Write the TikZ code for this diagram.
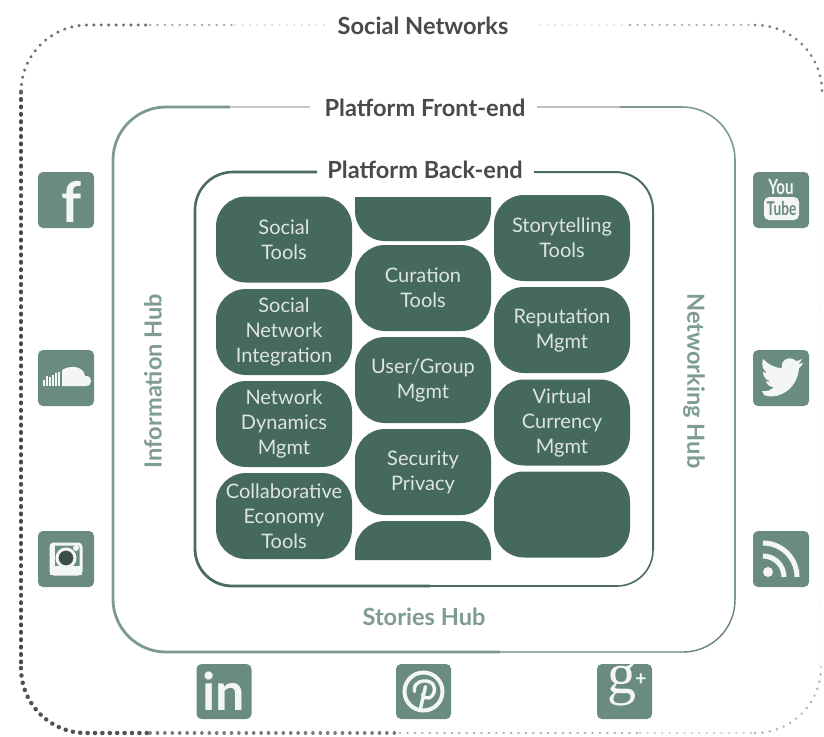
\documentclass[tikz,border=0pt]{standalone}
\usepackage{fontspec}
\setmainfont{Lato}
\newfontfamily\gfont{Liberation Serif}
\definecolor{blockc}{HTML}{45695F}
\definecolor{iconc}{HTML}{6A8C80}
\definecolor{hubc}{HTML}{7F9C92}
\definecolor{titlec}{HTML}{4A4A4A}
\definecolor{frontc}{HTML}{7E9A90}
\definecolor{backc}{HTML}{4A6B62}
\colorlet{glyphc}{white!92!iconc}
\tikzset{
  blockbox/.style={fill=blockc,rounded corners=30pt,minimum width=136pt,minimum height=86pt,inner sep=0pt,align=center,text=white!82!blockc,font=\fontsize{20}{25}\selectfont},
  iconbox/.style={fill=iconc,rounded corners=5pt,minimum width=56pt,minimum height=56pt,inner sep=0pt},
  titletext/.style={text=titlec,font=\fontsize{23.6}{28}\selectfont\bfseries},
  hubtext/.style={text=hubc,font=\fontsize{23.6}{28}\selectfont\bfseries},
  glyph/.style={text=glyphc,inner sep=0pt},
  dots/.style={line cap=round,dash pattern=on 0.2pt off 7.2pt},
}
\begin{document}
\begin{tikzpicture}[x=1pt,y=-1pt]
\useasboundingbox[fill=white] (0,0) rectangle (824,736);
% outer dotted frame
\draw[dots,line width=4.8pt,black!72] (21,92) -- (21,668);
\draw[dots,line width=4.4pt,black!68] (21,668) arc[start angle=180,end angle=270,radius=65pt] -- (150,733);
\draw[dots,line width=3.4pt,black!52] (150,733) -- (400,733);
\draw[dots,line width=2.8pt,black!34] (400,733) -- (640,733);
\draw[dots,line width=2.4pt,black!22] (640,733) -- (755,733);
\draw[dots,line width=2.6pt,black!30] (755,733) arc[start angle=270,end angle=360,radius=66pt];
\draw[dots,line width=1.5pt,black!5] (821,667) -- (821,92);
\draw[dots,line width=3.2pt,black!58] (21,92) arc[start angle=180,end angle=90,radius=67pt] -- (150,25);
\draw[dots,line width=2.6pt,black!38] (150,25) -- (235,25);
\draw[dots,line width=2.2pt,black!15] (235,25) -- (325,25);
\draw[dots,line width=2.2pt,black!12] (540,25) -- (630,25);
\draw[dots,line width=2.6pt,black!35] (630,25) -- (755,25);
\draw[dots,line width=3pt,black!50] (755,25) arc[start angle=90,end angle=0,radius=67pt];
% front-end frame
\draw[frontc,line width=2.8pt] (113,160) arc[start angle=180,end angle=90,radius=53pt] -- (230,107);
\draw[black!22,line width=2pt] (230,107) -- (310,107);
\draw[black!25,line width=1.4pt] (537,107) -- (620,107);
\draw[frontc,line width=1.6pt] (620,107) -- (682,107) arc[start angle=90,end angle=0,radius=53pt];
\draw[frontc,line width=2.2pt] (735,160) -- (735,600);
\draw[frontc!85!black,line width=1.4pt] (735,600) arc[start angle=0,end angle=-90,radius=52pt] -- (500,652);
\draw[frontc,line width=2.8pt] (500,652) -- (166,652) arc[start angle=270,end angle=180,radius=53pt] -- (113,160);
% back-end frame
\draw[backc,line width=2.6pt] (195,210) arc[start angle=180,end angle=90,radius=38pt] -- (317,172);
\draw[backc,line width=2pt] (534,172) -- (615,172) arc[start angle=90,end angle=0,radius=38pt] -- (653,550);
\draw[backc,line width=1.6pt] (653,550) arc[start angle=0,end angle=-90,radius=36pt] -- (430,586);
\draw[backc,line width=2.8pt] (430,586) -- (232,586) arc[start angle=270,end angle=180,radius=37pt] -- (195,210);
% titles
\node[titletext] (social) at (423,26) {Social Networks};
\node[titletext] (front) at (425,108) {Platform Front-end};
\node[titletext] (back) at (425,170) {Platform Back-end};
\node[hubtext,rotate=90] (info) at (153,381) {Information Hub};
\node[hubtext,rotate=-90] (net) at (694,381) {Networking Hub};
\node[hubtext] (stories) at (424,617) {Stories Hub};
% blocks
\node[blockbox] (b1) at (284,239.5) {Social\\Tools};
\node[blockbox] (b2) at (284,332) {Social\\Network\\Integration};
\node[blockbox] (b3) at (284,424) {Network\\Dynamics\\Mgmt};
\node[blockbox] (b4) at (284,516) {Collaborative\\Economy\\Tools};
\fill[blockc] (355,197) -- (491,197) [rounded corners=30pt] -- (491,241) -- (355,241) [sharp corners] -- cycle;
\node[blockbox] (m1) at (423,288) {Curation\\Tools};
\node[blockbox] (m2) at (423,380) {User/Group\\Mgmt};
\node[blockbox] (m3) at (423,472) {Security\\Privacy};
\fill[blockc] (355,560) -- (491,560) [rounded corners=30pt] -- (491,521) -- (355,521) [sharp corners] -- cycle;
\node[blockbox] (r1) at (562,238) {Storytelling\\Tools};
\node[blockbox] (r2) at (562,330) {Reputation\\Mgmt};
\node[blockbox] (r3) at (562,422.5) {Virtual\\Currency\\Mgmt};
\node[blockbox] (r4) at (562,514.5) {};
% icons
\node[iconbox] (fb) at (66,200) {};
\node[glyph,font=\fontsize{56}{56}\selectfont\bfseries] (fbg) at (72,202) {f};
\node[iconbox] (sc) at (66,378) {};
\begin{scope}[shift={(sc.center)}]
  \fill[glyphc] (-4,8) -- (20,8) .. controls (27,8) and (27,-3) .. (19,-2) .. controls (18,-11) and (6,-14) .. (-4,-8) -- cycle;
  \foreach \xx/\hh in {-7/14,-10/13,-13/11,-16/9,-19/10,-22/6}{
    \draw[glyphc,line width=1.6pt] (\xx,8) -- (\xx,8-\hh);
  }
\end{scope}
\node[iconbox] (ig) at (66,559) {};
\begin{scope}[shift={(ig.center)}]
  \draw[glyphc,line width=3pt,rounded corners=3pt] (-15,-15) rectangle (15,15);
  \fill[glyphc] (-16,7) rectangle (16,16);
  \fill[glyphc] (-16,-15) rectangle (-11,12);
  \draw[glyphc,line width=3pt,fill=iconc!55!black] (0,-1) circle[radius=9pt];
  \fill[glyphc] (10,-11) circle[radius=3pt];
\end{scope}
\node[iconbox] (yt) at (781,200) {};
\node[glyph,xscale=.72,font=\fontsize{21}{21}\selectfont\bfseries] (ytyou) at (781,187) {You};
\fill[glyphc,rounded corners=5pt] (764,197) rectangle (799,220);
\node[text=iconc,inner sep=0pt,xscale=.72,font=\fontsize{19}{19}\selectfont\bfseries] (yttube) at (781.5,208.5) {Tube};
\node[iconbox] (tw) at (781,378) {};
\begin{scope}[shift={(tw.center)}]
  \fill[glyphc] (-17,17) .. controls (-6,22) and (16,14) .. (18,-10)
    .. controls (20,-11) and (21,-13) .. (22,-15) .. controls (20,-14) and (19,-14) .. (17,-14)
    .. controls (19,-15) and (20,-17) .. (21,-19) .. controls (19,-18) and (17,-17) .. (15,-17)
    .. controls (9,-23) and (-1,-18) .. (1,-10) .. controls (-7,-10) and (-13,-14) .. (-18,-19)
    .. controls (-20,-13) and (-18,-8) .. (-14,-5) .. controls (-16,-5) and (-17,-6) .. (-18,-6)
    .. controls (-18,-1) and (-15,2) .. (-11,3) .. controls (-12,4) and (-14,4) .. (-15,3)
    .. controls (-14,7) and (-11,9) .. (-7,9) .. controls (-10,12) and (-14,14) .. (-19,13) -- cycle;
\end{scope}
\node[iconbox] (rs) at (781,559) {};
\begin{scope}[shift={(rs.center)}]
  \fill[glyphc] (-13,13) circle[radius=5pt];
  \draw[glyphc,line width=5pt] (-18,-3) arc[start angle=90,end angle=0,radius=21pt];
  \draw[glyphc,line width=5pt] (-18,-16) arc[start angle=90,end angle=0,radius=34pt];
\end{scope}
\node[iconbox,minimum width=55pt,minimum height=55pt] (li) at (224,691.5) {};
\node[glyph,font=\fontsize{52}{52}\selectfont\bfseries] (lig) at (224,691) {in};
\node[iconbox,minimum width=55pt,minimum height=55pt] (pn) at (423.5,691.5) {};
\begin{scope}[shift={(pn.center)}]
  \draw[glyphc,line width=4pt] (0,0) circle[radius=19pt];
  \draw[glyphc,line width=3.4pt,line cap=round] (-3,17) -- (2,-5);
  \draw[glyphc,line width=3.4pt,line cap=round] (-9,0) .. controls (-12,-12) and (10,-15) .. (11,-3) .. controls (11,8) and (0,9) .. (-1,3);
\end{scope}
\node[iconbox,minimum width=55pt,minimum height=55pt] (gp) at (624.5,691.5) {};
\node[glyph,font=\fontsize{58}{58}\selectfont\gfont] (gpg) at (622,685) {g};
\node[glyph,font=\fontsize{20}{20}\selectfont\bfseries] (gpp) at (641,680) {+};
\end{tikzpicture}
\end{document}
